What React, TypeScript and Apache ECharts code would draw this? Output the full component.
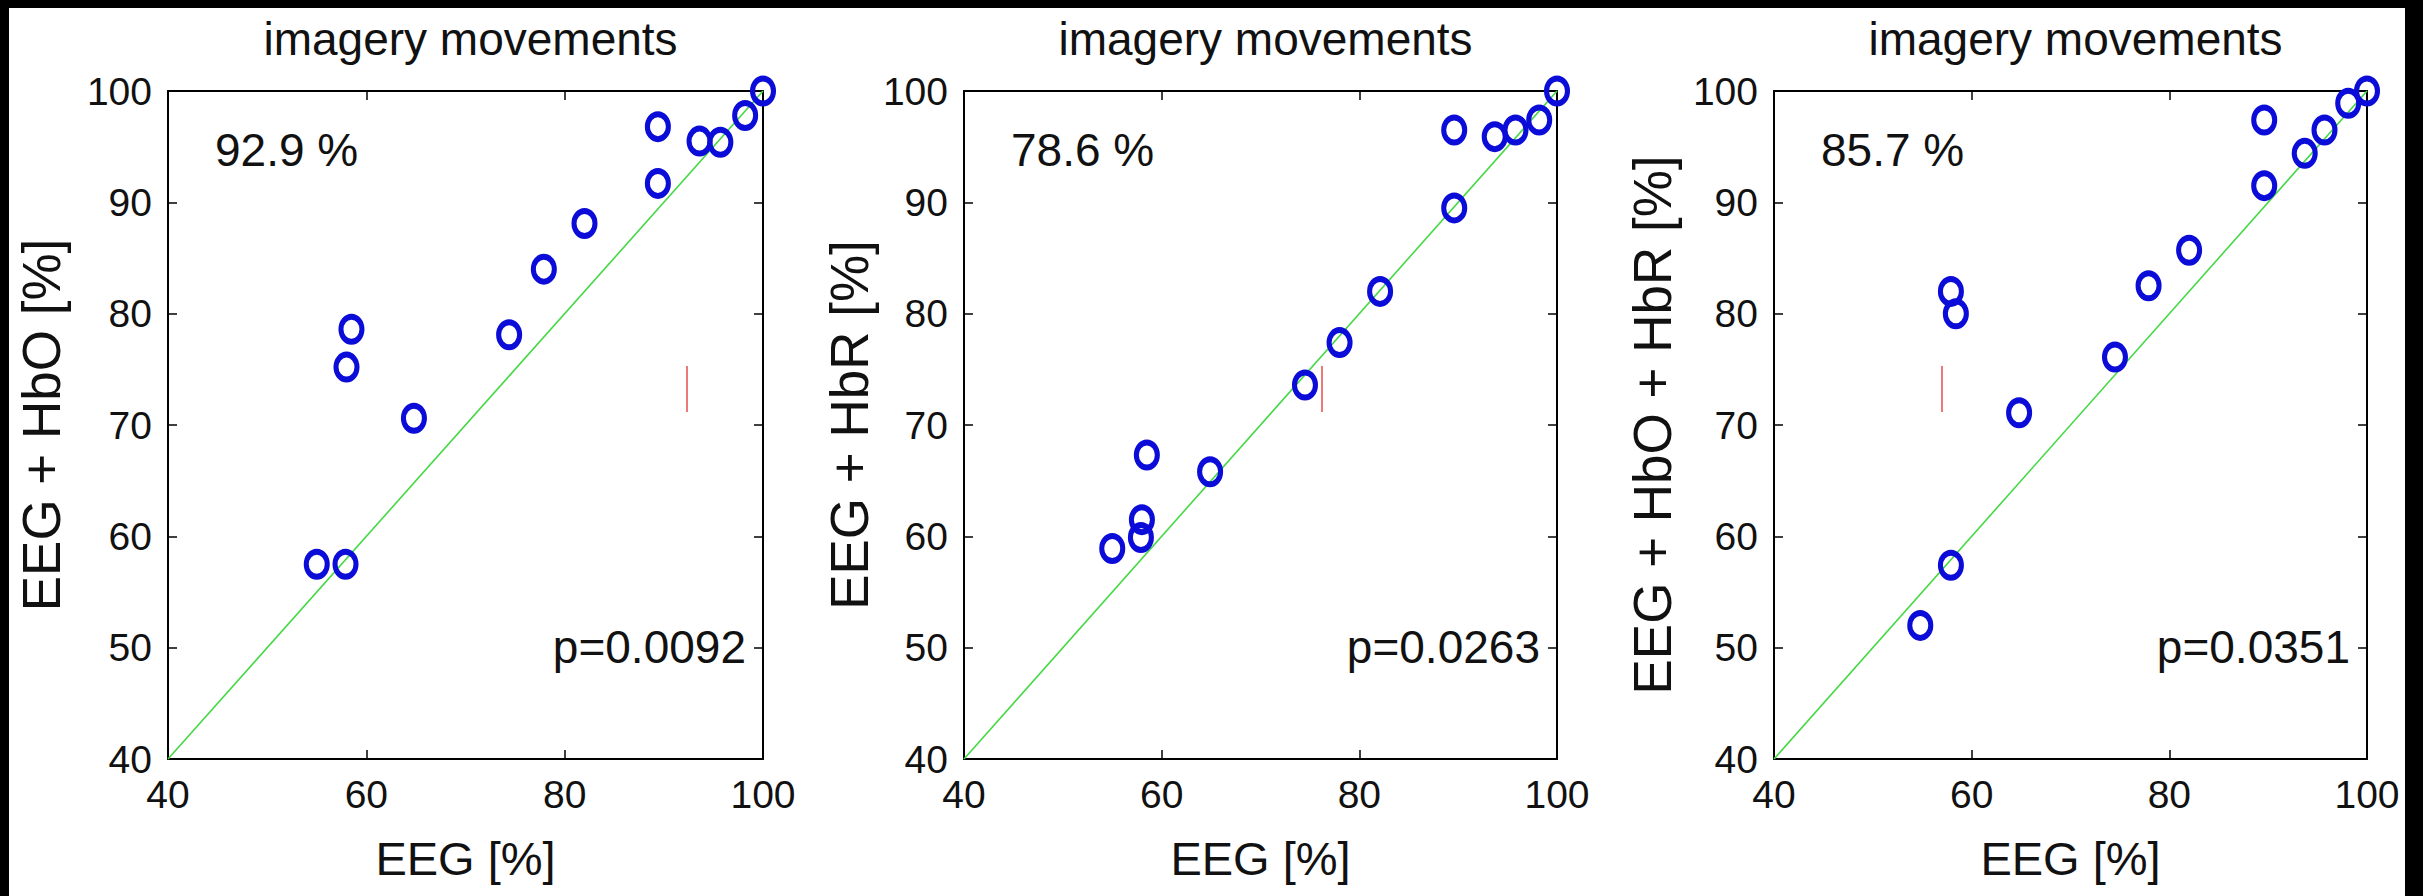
import React, { useEffect, useRef } from "react";
import * as echarts from "echarts";

// ---------- texts ----------
const TITLE = "imagery movements";
const X_NAME = "EEG [%]";
const Y_NAMES = ["EEG + HbO [%]", "EEG + HbR [%]", "EEG + HbO + HbR [%]"];
const ACCURACY_LABELS = ["92.9 %", "78.6 %", "85.7 %"];
const P_LABELS = ["p=0.0092", "p=0.0263", "p=0.0351"];

// ---------- axes ----------
const AXIS_MIN = 40;
const AXIS_MAX = 100;
const X_INTERVAL = 20;
const Y_INTERVAL = 10;

// ---------- data (EEG on x, combined on y) ----------
const HBO_X = [55.0, 57.9, 58.0, 58.5, 64.8, 74.4, 77.9, 82.0, 89.4, 89.4, 93.6, 95.7, 98.2, 100];
const HBO_Y = [57.5, 57.5, 75.2, 78.6, 70.6, 78.1, 84.0, 88.1, 91.7, 96.8, 95.5, 95.4, 97.8, 100];

const HBR_X = [55.0, 57.9, 58.0, 58.5, 64.9, 74.5, 78.0, 82.1, 89.6, 89.6, 93.7, 95.8, 98.2, 100];
const HBR_Y = [58.9, 59.9, 61.5, 67.3, 65.8, 73.6, 77.4, 82.0, 89.5, 96.5, 95.9, 96.5, 97.4, 100];

const ALL_X = [54.8, 57.9, 57.9, 58.4, 64.8, 74.5, 77.9, 82.0, 89.6, 89.6, 93.7, 95.7, 98.1, 100];
const ALL_Y = [52.0, 57.4, 82.0, 80.0, 71.1, 76.1, 82.5, 85.7, 91.5, 97.4, 94.4, 96.5, 98.9, 100];

const DIAGONAL = [AXIS_MIN, AXIS_MAX];

const PANELS = [
  { xs: HBO_X, ys: HBO_Y },
  { xs: HBR_X, ys: HBR_Y },
  { xs: ALL_X, ys: ALL_Y },
];

// ---------- layout ----------
const W = 2423;
const H = 896;
const GRID_TOP = 91;
const GRID_BOTTOM = 759;
const GRID_X = [
  [168, 763],
  [964, 1557],
  [1774, 2367],
];
const Y_NAME_GAPS = [100, 88, 95];
const RED_MARK_X = [687, 1322, 1942];

const FONT = '"Liberation Sans", Arial, Helvetica, sans-serif';

export default function App() {
  const ref = useRef<HTMLDivElement>(null);

  useEffect(() => {
    if (!ref.current) return;
    const chart = echarts.init(ref.current, undefined, { renderer: "svg" });

    const grid: any[] = [];
    const xAxis: any[] = [];
    const yAxis: any[] = [];
    const series: any[] = [];
    const title: any[] = [];
    const graphic: any[] = [];

    const axisLine = { show: true, onZero: false, lineStyle: { color: "#000", width: 2 } };
    const axisTick = { show: true, inside: true, length: 9, lineStyle: { color: "#000", width: 1.5 } };

    PANELS.forEach((p, i) => {
      const [l, r] = GRID_X[i];
      grid.push({ left: l, top: GRID_TOP, width: r - l, height: GRID_BOTTOM - GRID_TOP, containLabel: false });

      xAxis.push({
        gridIndex: i, type: "value", position: "bottom", min: AXIS_MIN, max: AXIS_MAX, interval: X_INTERVAL,
        axisLine, axisTick, splitLine: { show: false },
        axisLabel: { fontSize: 39, fontFamily: FONT, color: "#111", margin: 16 },
        name: X_NAME, nameLocation: "middle", nameGap: 76,
        nameTextStyle: { fontSize: 47, fontFamily: FONT, color: "#111" },
      });
      xAxis.push({
        gridIndex: i, type: "value", position: "top", min: AXIS_MIN, max: AXIS_MAX, interval: X_INTERVAL,
        axisLine, axisTick, splitLine: { show: false }, axisLabel: { show: false },
      });
      yAxis.push({
        gridIndex: i, type: "value", position: "left", min: AXIS_MIN, max: AXIS_MAX, interval: Y_INTERVAL,
        axisLine, axisTick, splitLine: { show: false },
        axisLabel: { fontSize: 39, fontFamily: FONT, color: "#111", margin: 16 },
        name: Y_NAMES[i], nameLocation: "middle", nameRotate: 90, nameGap: Y_NAME_GAPS[i],
        nameTextStyle: { fontSize: 53, fontFamily: FONT, color: "#111" },
      });
      yAxis.push({
        gridIndex: i, type: "value", position: "right", min: AXIS_MIN, max: AXIS_MAX, interval: Y_INTERVAL,
        axisLine, axisTick, splitLine: { show: false }, axisLabel: { show: false },
      });

      series.push({
        type: "line", xAxisIndex: 2 * i, yAxisIndex: 2 * i,
        data: DIAGONAL.map((v) => [v, v]),
        showSymbol: false, silent: true,
        lineStyle: { color: "#46d846", width: 1.6 }, z: 1,
      });
      series.push({
        type: "scatter", xAxisIndex: 2 * i, yAxisIndex: 2 * i,
        data: p.xs.map((x, k) => [x, p.ys[k]]),
        symbol: "path://M0,-10A10,10 0 1,1 0,10A10,10 0 1,1 0,-10Z",
        symbolSize: [21, 25],
        itemStyle: { color: "rgba(0,0,0,0)", borderColor: "#0c0cd8", borderWidth: 5.5, opacity: 1 },
        z: 3,
      });

      title.push({
        text: TITLE, left: (l + r) / 2, top: 11, textAlign: "center",
        textStyle: { fontSize: 46, fontFamily: FONT, fontWeight: "normal", color: "#111" },
      });

      graphic.push({
        type: "text", x: l + 47, y: 150,
        style: { text: ACCURACY_LABELS[i], fontSize: 46, fontFamily: FONT, fill: "#111", align: "left", verticalAlign: "middle" },
      });
      graphic.push({
        type: "text", x: r - 17, y: 647,
        style: { text: P_LABELS[i], fontSize: 46, fontFamily: FONT, fill: "#111", align: "right", verticalAlign: "middle" },
      });
      graphic.push({
        type: "line", shape: { x1: RED_MARK_X[i], y1: 366, x2: RED_MARK_X[i], y2: 412 },
        style: { stroke: "#e02020", lineWidth: 1.2 },
      });
    });

    // black frame strips of the scanned figure
    graphic.push({ type: "rect", shape: { x: 0, y: 0, width: W, height: 8 }, style: { fill: "#000" } });
    graphic.push({ type: "rect", shape: { x: 0, y: 0, width: 9, height: H }, style: { fill: "#000" } });
    graphic.push({ type: "rect", shape: { x: 2405, y: 0, width: W - 2405, height: H }, style: { fill: "#000" } });

    chart.setOption({
      animation: false,
      backgroundColor: "#fff",
      title, grid, xAxis, yAxis, series, graphic,
    });
    return () => chart.dispose();
  }, []);

  return (
    <div style={{ position: "fixed", left: 0, top: 0, width: W, height: H, background: "#fff" }}>
      <div ref={ref} style={{ width: W, height: H }} />
    </div>
  );
}
